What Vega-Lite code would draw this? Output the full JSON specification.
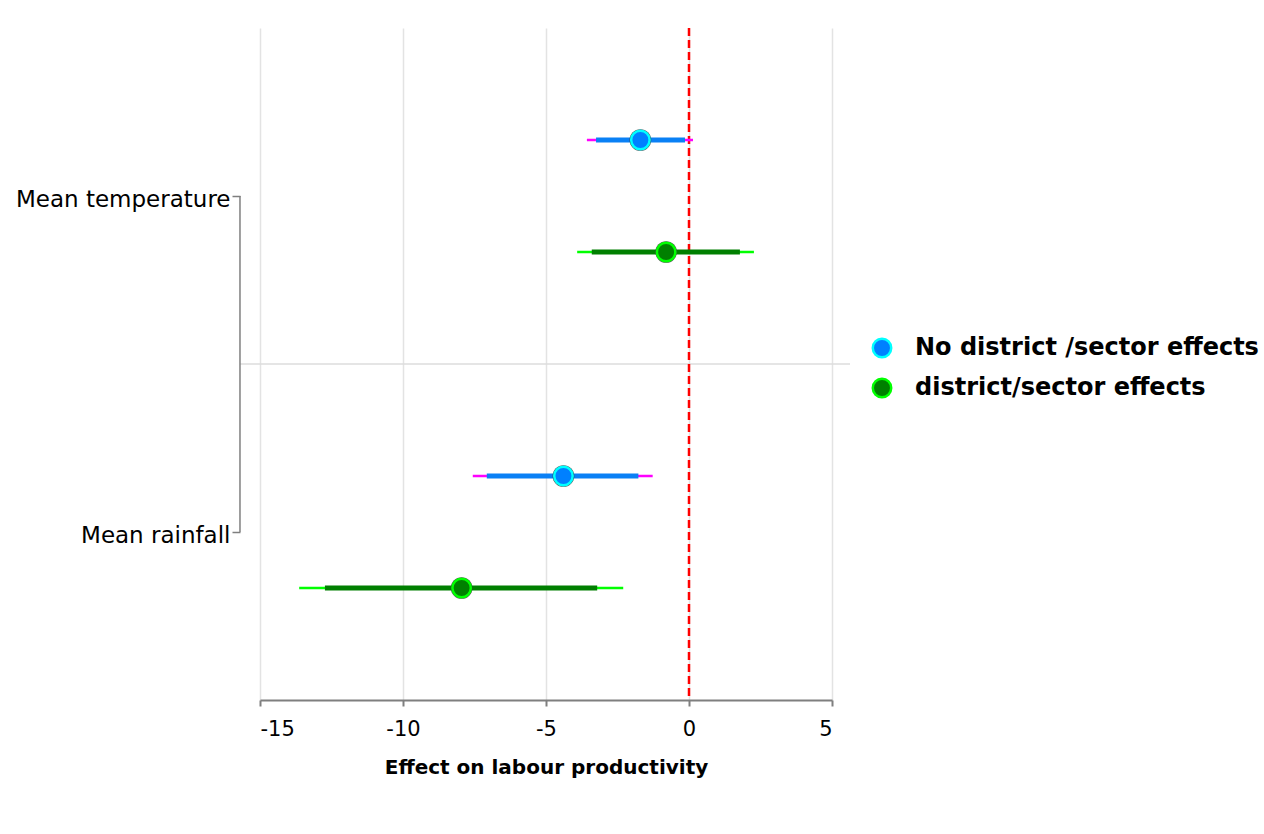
{
  "$schema": "https://vega.github.io/schema/vega-lite/v6.json",
  "autosize": {"type": "none"},
  "padding": {"left": 260, "top": 28, "right": 432, "bottom": 134},
  "width": 572,
  "height": 672,
  "background": "white",
  "config": {
    "font": "DejaVu Sans",
    "view": {"stroke": null},
    "axisX": {
      "grid": true, "gridColor": "#E3E3E3", "gridWidth": 1.5,
      "domainColor": "#7F7F7F", "domainWidth": 2,
      "tickColor": "#7F7F7F", "tickWidth": 2, "tickSize": 6,
      "labelFontSize": 21, "labelColor": "#000000", "labelPadding": 12,
      "titleFontSize": 20, "titleFontWeight": "bold", "titleColor": "#000000", "titlePadding": 18
    },
    "axisY": {
      "offset": 20, "domain": false, "grid": false,
      "tickColor": "#7F7F7F", "tickWidth": 1.5, "tickSize": 8,
      "labelFontSize": 23, "labelColor": "#000000", "labelPadding": 2, "labelLimit": 0, "labelOffset": 4
    },
    "legend": {
      "orient": "none", "legendX": 610, "legendY": 308, "padding": 0,
      "labelFontSize": 24, "labelFontWeight": "bold", "labelColor": "#000000", "labelLimit": 0,
      "symbolSize": 340, "symbolStrokeWidth": 2.5, "symbolType": "circle",
      "rowPadding": 10, "labelOffset": 21
    }
  },
  "data": {
    "values": [
      {"var": "Mean temperature", "model": "No district /sector effects", "b": -1.70, "lo95": -3.57, "hi95": 0.14, "lo90": -3.25, "hi90": -0.14},
      {"var": "Mean temperature", "model": "district/sector effects", "b": -0.80, "lo95": -3.91, "hi95": 2.27, "lo90": -3.40, "hi90": 1.78},
      {"var": "Mean rainfall", "model": "No district /sector effects", "b": -4.39, "lo95": -7.56, "hi95": -1.27, "lo90": -7.07, "hi90": -1.77},
      {"var": "Mean rainfall", "model": "district/sector effects", "b": -7.95, "lo95": -13.63, "hi95": -2.30, "lo90": -12.73, "hi90": -3.21}
    ]
  },
  "layer": [
    {
      "data": {"values": [{"var": "Mean rainfall"}]},
      "mark": {"type": "rule", "color": "#DCDCDC", "strokeWidth": 1.5},
      "encoding": {
        "y": {"field": "var", "type": "nominal", "bandPosition": 0, "title": null,
              "scale": {"domain": ["Mean temperature", "Mean rainfall"], "paddingInner": 0, "paddingOuter": 0}},
        "x": {"datum": -15.7, "scale": {"domain": [-15, 5], "nice": false, "zero": false}},
        "x2": {"datum": 5.63}
      }
    },
    {
      "data": {"values": [{"from": "Mean temperature", "to": "Mean rainfall"}]},
      "mark": {"type": "rule", "color": "#7F7F7F", "strokeWidth": 1.5},
      "encoding": {
        "y": {"field": "from", "type": "nominal", "title": null,
              "scale": {"domain": ["Mean temperature", "Mean rainfall"], "paddingInner": 0, "paddingOuter": 0}},
        "y2": {"field": "to"},
        "x": {"datum": -15.7}
      }
    },
    {
      "data": {"values": [{"ref": 0}]},
      "mark": {"type": "rule", "color": "#FF0000", "strokeWidth": 2.5, "strokeDash": [8, 4]},
      "encoding": {
        "x": {"datum": 0}
      }
    },
    {
      "mark": {"type": "rule", "strokeWidth": 2.5},
      "encoding": {
        "x": {"field": "lo95", "type": "quantitative", "title": "Effect on labour productivity",
              "scale": {"domain": [-15, 5], "nice": false, "zero": false},
              "axis": {"values": [-15, -10, -5, 0, 5], "labelExpr": "'' + datum.value"}},
        "x2": {"field": "hi95"},
        "y": {"field": "var", "type": "nominal", "title": null,
              "scale": {"domain": ["Mean temperature", "Mean rainfall"], "paddingInner": 0, "paddingOuter": 0}},
        "yOffset": {"field": "model", "type": "nominal",
                    "scale": {"domain": ["No district /sector effects", "district/sector effects"], "paddingInner": 0, "paddingOuter": 0.5}},
        "color": {"condition": {"test": "datum.model === 'No district /sector effects'", "value": "#FF00FF"}, "value": "#00FF00"}
      }
    },
    {
      "mark": {"type": "rule", "strokeWidth": 5},
      "encoding": {
        "x": {"field": "lo90", "type": "quantitative", "title": "Effect on labour productivity",
              "scale": {"domain": [-15, 5], "nice": false, "zero": false},
              "axis": {"values": [-15, -10, -5, 0, 5], "labelExpr": "'' + datum.value"}},
        "x2": {"field": "hi90"},
        "y": {"field": "var", "type": "nominal", "title": null,
              "scale": {"domain": ["Mean temperature", "Mean rainfall"], "paddingInner": 0, "paddingOuter": 0}},
        "yOffset": {"field": "model", "type": "nominal",
                    "scale": {"domain": ["No district /sector effects", "district/sector effects"], "paddingInner": 0, "paddingOuter": 0.5}},
        "color": {"condition": {"test": "datum.model === 'No district /sector effects'", "value": "#0A80F5"}, "value": "#007F00"}
      }
    },
    {
      "mark": {"type": "circle", "size": 470, "color": "#3A3A3A", "opacity": 0.85},
      "encoding": {
        "x": {"field": "b", "type": "quantitative", "title": "Effect on labour productivity",
              "scale": {"domain": [-15, 5], "nice": false, "zero": false},
              "axis": {"values": [-15, -10, -5, 0, 5], "labelExpr": "'' + datum.value"}},
        "y": {"field": "var", "type": "nominal", "title": null,
              "scale": {"domain": ["Mean temperature", "Mean rainfall"], "paddingInner": 0, "paddingOuter": 0}},
        "yOffset": {"field": "model", "type": "nominal",
                    "scale": {"domain": ["No district /sector effects", "district/sector effects"], "paddingInner": 0, "paddingOuter": 0.5}}
      }
    },
    {
      "mark": {"type": "circle", "size": 340, "strokeWidth": 2.5, "opacity": 1},
      "encoding": {
        "x": {"field": "b", "type": "quantitative", "title": "Effect on labour productivity",
              "scale": {"domain": [-15, 5], "nice": false, "zero": false},
              "axis": {"values": [-15, -10, -5, 0, 5], "labelExpr": "'' + datum.value"}},
        "y": {"field": "var", "type": "nominal", "title": null,
              "scale": {"domain": ["Mean temperature", "Mean rainfall"], "paddingInner": 0, "paddingOuter": 0}},
        "yOffset": {"field": "model", "type": "nominal",
                    "scale": {"domain": ["No district /sector effects", "district/sector effects"], "paddingInner": 0, "paddingOuter": 0.5}},
        "fill": {"field": "model", "type": "nominal", "title": null,
                 "scale": {"domain": ["No district /sector effects", "district/sector effects"], "range": ["#0080FF", "#008000"]}},
        "stroke": {"field": "model", "type": "nominal", "title": null,
                   "scale": {"domain": ["No district /sector effects", "district/sector effects"], "range": ["#00FFFF", "#00FF00"]}}
      }
    }
  ]
}
